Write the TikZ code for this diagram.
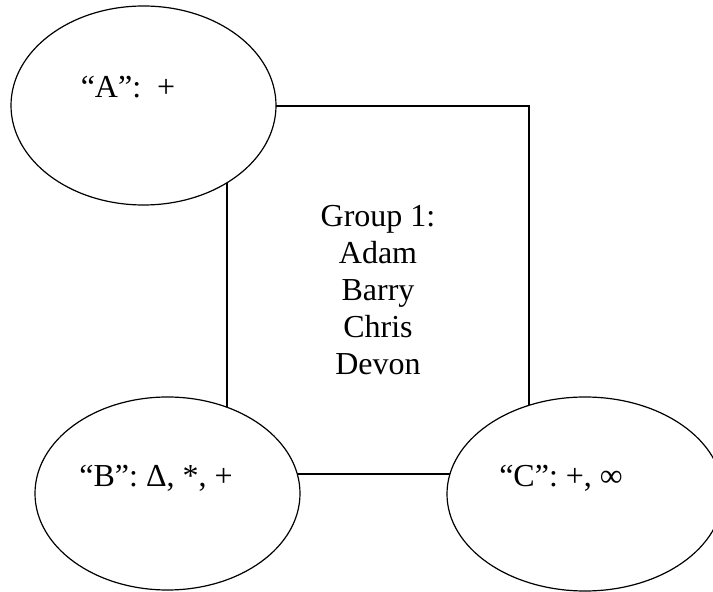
\documentclass[tikz,border=0pt]{standalone}
\usepackage{fontspec}
\setmainfont{Liberation Serif}
\usepackage{tikz}
\usetikzlibrary{shapes.geometric}

\begin{document}
\begin{tikzpicture}[
    x=1pt, y=1pt,
    every node/.style={font=\fontsize{32}{37}\selectfont},
    groupbox/.style={draw=black, line width=1.1pt, align=center,
      minimum width=302pt, minimum height=368pt, inner sep=0pt},
    bubble/.style={ellipse, draw=black, fill=white, line width=1.2pt, inner sep=0pt},
    tag/.style={anchor=base, inner sep=0pt}
  ]
    \useasboundingbox (0,0) rectangle (713,592);
    \node[groupbox] (group) at (378,302) {Group 1:\\Adam\\Barry\\Chris\\Devon};
    \node[bubble, minimum width=265pt, minimum height=199pt] (A) at (143.5,486.5) {};
    \node[bubble, minimum width=265pt, minimum height=193pt] (B) at (167.5,98.5) {};
    \node[bubble, minimum width=276pt, minimum height=194pt] (C) at (585,98) {};
    \node[tag] (Atag) at (128,494) {“A”:\ \ +};
    \node[tag] (Btag) at (156,105) {“B”: Δ, *, +};
    \node[tag] (Ctag) at (561,105) {“C”: +, ∞};
  \end{tikzpicture}
\end{document}
